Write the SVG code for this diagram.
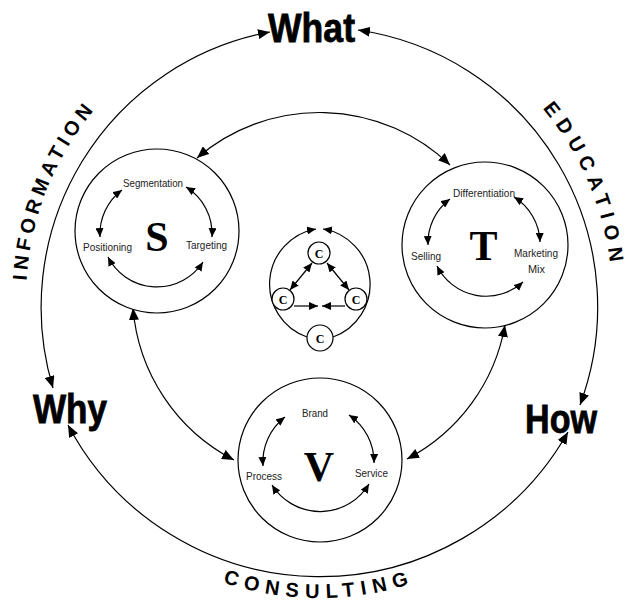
<svg xmlns="http://www.w3.org/2000/svg" width="626" height="603" viewBox="0 0 626 603">
<defs>
<marker id="ah" viewBox="0 0 12 10" refX="12" refY="5" markerWidth="12" markerHeight="10" markerUnits="userSpaceOnUse" orient="auto-start-reverse"><path d="M0,0 L12,5 L0,10 z" fill="#000"/></marker>
<marker id="as" viewBox="0 0 9 8" refX="9" refY="4" markerWidth="9" markerHeight="8" markerUnits="userSpaceOnUse" orient="auto-start-reverse"><path d="M0,0 L9,4 L0,8 z" fill="#000"/></marker>
<path id="pInfo" d="M36,373.8 A293,293 0 0 1 168.1,46.8"/>
<path id="pEdu" d="M487.1,58 A293,293 0 0 1 608.4,343.8"/>
<path id="pCons" d="M146.9,543.8 A300,300 0 0 0 491.1,543.8"/>
</defs>
<style>
.ln{fill:none;stroke:#000;stroke-width:1.2}
.big{marker-start:url(#ah);marker-end:url(#ah)}
.sm{marker-start:url(#as);marker-end:url(#as)}
.end{marker-end:url(#as)}
.ring{fill:#fff;stroke:#000;stroke-width:1.2}
.lbl{font-family:"Liberation Sans Narrow","Arial Narrow","Liberation Sans",sans-serif;font-size:11.5px;fill:#222;text-anchor:middle}
.q{font-family:"Liberation Sans Narrow","Arial Narrow","Liberation Sans",sans-serif;font-weight:bold;font-size:41px;fill:#000;stroke:#000;stroke-width:0.8}
.L{font-family:"Liberation Serif","Times New Roman",serif;font-weight:bold;font-size:42px;text-anchor:middle;fill:#000}
.c{font-family:"Liberation Serif","Times New Roman",serif;font-weight:bold;font-size:12px;text-anchor:middle;fill:#000}
.arc{font-family:"Liberation Sans",Arial,sans-serif;font-weight:bold;font-size:20px;fill:#000}
</style>
<rect width="626" height="603" fill="#fff"/>

<g id="connectors">
  <path class="ln big" d="M270,32 A280,280 0 0 0 53,388"/>
  <path class="ln big" d="M358,30 A280,280 0 0 1 580,405"/>
  <path class="ln big" d="M68,425 A285,285 0 0 0 568,432"/>
  <path class="ln big" d="M197,158 A188,188 0 0 1 450,165"/>
  <path class="ln big" d="M133,308 A188,188 0 0 0 234,460"/>
  <path class="ln big" d="M505,325 A188,188 0 0 1 407,459"/>
</g>

<g id="arc-labels">
  <text class="arc" letter-spacing="4.6"><textPath href="#pInfo" startOffset="50%" text-anchor="middle">INFORMATION</textPath></text>
  <text class="arc" letter-spacing="6.6"><textPath href="#pEdu" startOffset="50%" text-anchor="middle">EDUCATION</textPath></text>
  <text class="arc" letter-spacing="6.5"><textPath href="#pCons" startOffset="50%" text-anchor="middle">CONSULTING</textPath></text>
</g>

<g id="what"><text class="q" x="268" y="42" textLength="87" lengthAdjust="spacingAndGlyphs">What</text></g>
<g id="why"><text class="q" x="33" y="423" textLength="74" lengthAdjust="spacingAndGlyphs">Why</text></g>
<g id="how"><text class="q" x="525" y="433" textLength="72" lengthAdjust="spacingAndGlyphs">How</text></g>

<g id="node-S">
  <circle class="ring" cx="157" cy="231" r="82"/>
  <path class="ln sm" d="M122,190 A55,55 0 0 0 100,237"/>
  <path class="ln sm" d="M186,187 A55,55 0 0 1 212,237"/>
  <path class="ln sm" d="M108,257 A55,55 0 0 0 203,262"/>
  <text class="lbl" x="153" y="187" textLength="60" lengthAdjust="spacingAndGlyphs">Segmentation</text>
  <text class="lbl" x="107.5" y="251" textLength="49" lengthAdjust="spacingAndGlyphs">Positioning</text>
  <text class="lbl" x="206.5" y="249" textLength="41" lengthAdjust="spacingAndGlyphs">Targeting</text>
  <text class="L" x="157" y="251">S</text>
</g>

<g id="node-T">
  <circle class="ring" cx="485" cy="245" r="83"/>
  <path class="ln sm" d="M450,199 A55,55 0 0 0 428,245"/>
  <path class="ln sm" d="M514,197 A55,55 0 0 1 540,242"/>
  <path class="ln sm" d="M437,266 A55,55 0 0 0 523,282"/>
  <text class="lbl" x="484" y="197" textLength="62" lengthAdjust="spacingAndGlyphs">Differentiation</text>
  <text class="lbl" x="426" y="260" textLength="30" lengthAdjust="spacingAndGlyphs">Selling</text>
  <text class="lbl" x="536" y="257" style="font-size:11px" textLength="44" lengthAdjust="spacingAndGlyphs">Marketing</text>
  <text class="lbl" x="536.5" y="272.5" style="font-size:11px" textLength="17" lengthAdjust="spacingAndGlyphs">Mix</text>
  <text class="L" x="483.5" y="260">T</text>
</g>

<g id="node-V">
  <circle class="ring" cx="320" cy="460" r="82"/>
  <path class="ln sm" d="M285,417 A57,57 0 0 0 263,466"/>
  <path class="ln sm" d="M349,415 A57,57 0 0 1 374,463"/>
  <path class="ln sm" d="M272,485 A57,57 0 0 0 369,484"/>
  <text class="lbl" x="315" y="417" textLength="26" lengthAdjust="spacingAndGlyphs">Brand</text>
  <text class="lbl" x="264" y="480" textLength="36" lengthAdjust="spacingAndGlyphs">Process</text>
  <text class="lbl" x="371.5" y="477" textLength="33" lengthAdjust="spacingAndGlyphs">Service</text>
  <text class="L" x="319" y="481">V</text>
</g>

<g id="node-C">
  <path class="ln end" d="M307,337 A56,56 0 0 1 316,229"/>
  <path class="ln end" d="M333,337 A56,56 0 0 0 323,229"/>
  <path class="ln sm" d="M312,263 L290,290"/>
  <path class="ln sm" d="M327,263 L349,290"/>
  <path class="ln end" d="M294,306 L318,306"/>
  <path class="ln end" d="M345,306 L322,306"/>
  <g id="c-top"><circle class="ring" cx="319" cy="253" r="11"/><text class="c" x="319" y="257.5">C</text></g>
  <g id="c-left"><circle class="ring" cx="283" cy="299" r="11"/><text class="c" x="283" y="303.5">C</text></g>
  <g id="c-right"><circle class="ring" cx="356" cy="299" r="11"/><text class="c" x="356" y="303.5">C</text></g>
  <g id="c-bottom"><circle class="ring" cx="320" cy="338" r="13"/><text class="c" x="320" y="342.5">C</text></g>
</g>
</svg>
